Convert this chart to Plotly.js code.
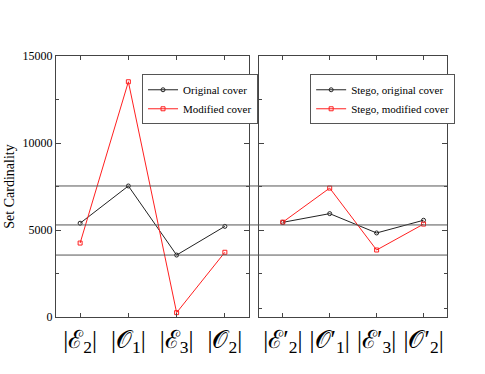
<!DOCTYPE html>
<html>
<head>
<meta charset="utf-8">
<script src="https://cdn.plot.ly/plotly-3.0.1.min.js"></script>
<style>
  html, body { margin: 0; padding: 0; background: #fff; }
  #chart { width: 485px; height: 374px; }
</style>
</head>
<body>
<div id="chart"></div>
<script>
// categories for the two panels
const coverSets = ["|ℰ<sub>2</sub>|", "|𝒪<sub>1</sub>|", "|ℰ<sub>3</sub>|", "|𝒪<sub>2</sub>|"];
const stegoSets = ["|ℰ′<sub>2</sub>|", "|𝒪′<sub>1</sub>|", "|ℰ′<sub>3</sub>|", "|𝒪′<sub>2</sub>|"];

// set cardinalities
const originalCover = [5390, 7530, 3560, 5210];
const modifiedCover = [4250, 13520, 250, 3720];
const stegoOriginal = [5440, 5940, 4830, 5560];
const stegoModified = [5450, 7410, 3850, 5340];

// horizontal reference levels drawn across both panels
const refLevels = [7530, 5290, 3560];

const serif = "Liberation Serif, Times New Roman, serif";
const frame = "#444";

const makeTrace = (name, x, y, color, symbol, xa, ya, legend) => ({
    name: name,
    x: x,
    y: y,
    xaxis: xa,
    yaxis: ya,
    legend: legend,
    mode: "lines+markers",
    type: "scatter",
    line: { color: color, width: 1 },
    marker: { symbol: symbol, size: 4, color: color, line: { color: color, width: 1 } },
});

const data = [
    makeTrace("Original cover", coverSets, originalCover, "#222", "circle-open", "x", "y", "legend"),
    makeTrace("Modified cover", coverSets, modifiedCover, "#ff2020", "square-open", "x", "y", "legend"),
    makeTrace("Stego, original cover", stegoSets, stegoOriginal, "#222", "circle-open", "x2", "y2", "legend2"),
    makeTrace("Stego, modified cover", stegoSets, stegoModified, "#ff2020", "square-open", "x2", "y2", "legend2"),
];

const xBase = {
    type: "category",
    range: [-0.5, 3.5],
    showline: true,
    linecolor: frame,
    linewidth: 1,
    mirror: "allticks",
    ticks: "inside",
    ticklen: 4,
    tickcolor: frame,
    showgrid: false,
    zeroline: false,
    tickfont: { family: serif, size: 25, color: "#000" },
};

const yBase = {
    range: [0, 15000],
    showline: true,
    linecolor: frame,
    linewidth: 1,
    mirror: "allticks",
    ticks: "inside",
    ticklen: 5,
    tickcolor: frame,
    showgrid: false,
    zeroline: false,
    tickformat: "d",
    tickfont: { family: serif, size: 12, color: "#000" },
};

const shapes = refLevels.map(v => ({
    type: "line",
    xref: "paper",
    yref: "y",
    x0: 0,
    x1: 1,
    y0: v,
    y1: v,
    line: { color: "#555", width: 1 },
}));

const legendBase = {
    font: { family: serif, size: 11, color: "#000" },
    bgcolor: "#fff",
    bordercolor: "#555",
    borderwidth: 1,
    xanchor: "left",
    yanchor: "top",
    tracegroupgap: 0,
    itemwidth: 30,
};

const layout = {
    width: 485,
    height: 374,
    margin: { l: 56, r: 38, t: 56, b: 57 },
    paper_bgcolor: "#fff",
    plot_bgcolor: "#fff",
    showlegend: true,
    xaxis: Object.assign({}, xBase, { domain: [0, 0.4936], anchor: "y" }),
    xaxis2: Object.assign({}, xBase, { domain: [0.52, 1], anchor: "y2" }),
    yaxis: Object.assign({}, yBase, {
        dtick: 5000,
        minor: { dtick: 2500, ticks: "inside", ticklen: 3, tickcolor: frame },
        title: { text: "Set Cardinality", font: { family: serif, size: 14, color: "#000" }, standoff: 4 },
    }),
    yaxis2: Object.assign({}, yBase, {
        anchor: "x2",
        matches: "y",
        showticklabels: false,
        tickvals: [0, 5000, 10000, 15000],
        minor: { tickmode: "array", tickvals: [500, 2500, 7500, 12500], ticks: "inside", ticklen: 3, tickcolor: frame },
    }),
    legend: Object.assign({}, legendBase, { x: 0.22, y: 0.93 }),
    legend2: Object.assign({}, legendBase, { x: 0.65, y: 0.93 }),
    shapes: shapes,
};

Plotly.newPlot("chart", data, layout, { displayModeBar: false, staticPlot: true });
</script>
</body>
</html>
